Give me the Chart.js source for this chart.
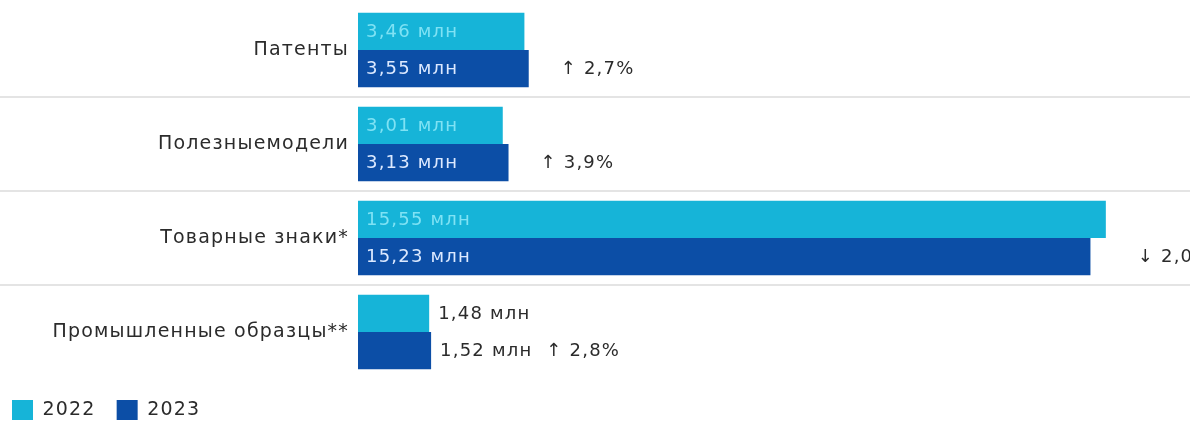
<!DOCTYPE html>
<html>
<head>
<meta charset="utf-8">
<script src="https://cdn.jsdelivr.net/npm/chart.js@4"></script>
<style>
    html, body { margin: 0; padding: 0; background: #ffffff; }
    #wrap { width: 1190px; height: 422px; }
</style>
</head>
<body>
<div id="wrap"><canvas id="grafica"></canvas></div>
<script>
// Datos
const categorias = ["Патенты", "Полезныемодели", "Товарные знаки*", "Промышленные образцы**"];
const anios = ["2022", "2023"];
const valores2022 = [3.46, 3.01, 15.55, 1.48];
const valores2023 = [3.55, 3.13, 15.23, 1.52];
const cambios = ["↑ 2,7%", "↑ 3,9%", "↓ 2,0%", "↑ 2,8%"];

const FUENTE = "'DejaVu Sans', sans-serif";
const COLOR_2022 = "#16b4d8";
const COLOR_2023 = "#0c4ea6";
const TEXTO = "#2b2b2b";

const fmt = v => v.toFixed(2).replace(".", ",") + " млн";

// Espaciado de letras (el texto original es más ancho)
const espaciado = {
    id: "espaciado",
    beforeUpdate(chart) { chart.ctx.letterSpacing = "1.2px"; },
    beforeDraw(chart) { chart.ctx.letterSpacing = "1.2px"; }
};

// Líneas separadoras entre categorías (ancho completo)
const separadores = {
    id: "separadores",
    beforeDatasetsDraw(chart) {
        const { ctx } = chart;
        const y = chart.scales.y;
        ctx.save();
        ctx.strokeStyle = "#e4e4e4";
        ctx.lineWidth = 2;
        for (let i = 1; i < categorias.length; i++) {
            const py = Math.round((y.getPixelForValue(i - 1) + y.getPixelForValue(i)) / 2);
            ctx.beginPath();
            ctx.moveTo(0, py);
            ctx.lineTo(chart.width, py);
            ctx.stroke();
        }
        ctx.restore();
    }
};

// Etiquetas de valor y cambio porcentual
const etiquetas = {
    id: "etiquetas",
    afterDatasetsDraw(chart) {
        const { ctx } = chart;
        ctx.save();
        ctx.font = "18px " + FUENTE;
        ctx.textBaseline = "middle";
        ctx.textAlign = "left";
        const finTexto = [];
        chart.data.datasets.forEach((ds, di) => {
            const meta = chart.getDatasetMeta(di);
            meta.data.forEach((bar, i) => {
                const txt = fmt(ds.data[i]);
                const w = ctx.measureText(txt).width;
                const ancho = bar.x - bar.base;
                let x, color;
                if (w + 16 <= ancho) {
                    x = bar.base + 8;
                    color = di === 0 ? "#7fe2f4" : "#dce9ff";
                    finTexto[i] = Math.max(finTexto[i] || 0, bar.x + 32);
                } else {
                    x = bar.x + 9;
                    color = TEXTO;
                    finTexto[i] = Math.max(finTexto[i] || 0, x + w + 14);
                }
                ctx.fillStyle = color;
                ctx.fillText(txt, x, bar.y + 1);
            });
        });
        const meta2023 = chart.getDatasetMeta(1);
        ctx.fillStyle = TEXTO;
        meta2023.data.forEach((bar, i) => {
            ctx.fillText(cambios[i], finTexto[i], bar.y + 1);
        });
        ctx.restore();
    }
};

new Chart(document.getElementById("grafica"), {
    type: "bar",
    data: {
        labels: categorias,
        datasets: [
            { label: anios[0], data: valores2022, backgroundColor: COLOR_2022, borderWidth: 0 },
            { label: anios[1], data: valores2023, backgroundColor: COLOR_2023, borderWidth: 0 }
        ]
    },
    options: {
        indexAxis: "y",
        responsive: true,
        maintainAspectRatio: false,
        animation: false,
        layout: { padding: { top: 3, right: 0, bottom: -8, left: -9 } },
        datasets: {
            bar: { categoryPercentage: 0.79, barPercentage: 1.0 }
        },
        scales: {
            x: {
                display: false,
                min: 0,
                max: 17.3
            },
            y: {
                grid: { display: false },
                border: { display: false },
                ticks: {
                    color: TEXTO,
                    padding: 1,
                    font: { family: FUENTE, size: 19 }
                },
                afterFit(scale) {
                    scale.width = 367;
                    scale.paddingTop = 0;
                    scale.paddingBottom = 0;
                }
            }
        },
        plugins: {
            legend: {
                position: "bottom",
                align: "start",
                labels: {
                    boxWidth: 21,
                    boxHeight: 20,
                    padding: 21,
                    color: TEXTO,
                    font: { family: FUENTE, size: 19 }
                }
            },
            tooltip: { enabled: false }
        }
    },
    plugins: [espaciado, separadores, etiquetas]
});
</script>
</body>
</html>
